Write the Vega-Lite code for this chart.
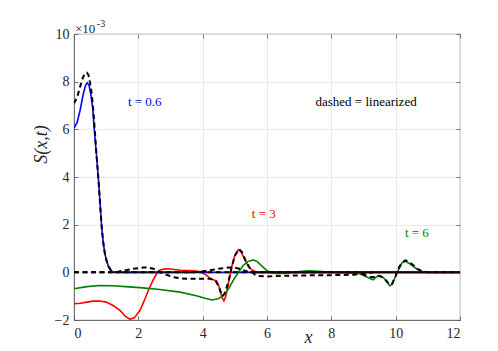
{
  "$schema": "https://vega.github.io/schema/vega-lite/v6.json",
  "autosize": {"type": "none"},
  "padding": {"left": 74, "top": 34, "right": 38, "bottom": 31},
  "width": 386,
  "height": 286,
  "config": {
    "view": {"stroke": "#555555", "strokeWidth": 0.8},
    "font": "'Liberation Serif', 'Times New Roman', serif",
    "axis": {
      "labelFont": "'Liberation Serif', 'Times New Roman', serif", "labelFontSize": 14, "labelColor": "#262626",
      "domainColor": "#555555", "domainWidth": 0.8, "tickColor": "#555555", "tickWidth": 0.8,
      "gridColor": "#e6e6e6", "gridWidth": 0.8,
      "titleFont": "'Liberation Serif', 'Times New Roman', serif", "titleFontStyle": "italic", "titleFontWeight": "normal", "titleColor": "#262626"
    }
  },
  "datasets": {
    "curves": [
      {"s": "t = 0.6", "x": 0, "y": 6.05}, {"s": "t = 0.6", "x": 0.1, "y": 6.3}, {"s": "t = 0.6", "x": 0.19, "y": 6.8}, {"s": "t = 0.6", "x": 0.29, "y": 7.5}, {"s": "t = 0.6", "x": 0.36, "y": 7.85}, {"s": "t = 0.6", "x": 0.41, "y": 7.95}, {"s": "t = 0.6", "x": 0.47, "y": 7.85}, {"s": "t = 0.6", "x": 0.53, "y": 7.4}, {"s": "t = 0.6", "x": 0.58, "y": 6.9}, {"s": "t = 0.6", "x": 0.63, "y": 6.0}, {"s": "t = 0.6", "x": 0.7, "y": 4.9}, {"s": "t = 0.6", "x": 0.76, "y": 3.9}, {"s": "t = 0.6", "x": 0.81, "y": 2.9}, {"s": "t = 0.6", "x": 0.86, "y": 1.9}, {"s": "t = 0.6", "x": 0.91, "y": 1.25}, {"s": "t = 0.6", "x": 0.96, "y": 0.78}, {"s": "t = 0.6", "x": 1.02, "y": 0.45}, {"s": "t = 0.6", "x": 1.07, "y": 0.25}, {"s": "t = 0.6", "x": 1.15, "y": 0.08}, {"s": "t = 0.6", "x": 1.22, "y": 0.01}, {"s": "t = 0.6", "x": 1.35, "y": 0}, {"s": "t = 0.6", "x": 12, "y": 0},
      {"s": "t = 3", "x": 0, "y": -1.32}, {"s": "t = 3", "x": 0.2, "y": -1.3}, {"s": "t = 3", "x": 0.4, "y": -1.25}, {"s": "t = 3", "x": 0.6, "y": -1.21}, {"s": "t = 3", "x": 0.8, "y": -1.2}, {"s": "t = 3", "x": 1.0, "y": -1.25}, {"s": "t = 3", "x": 1.2, "y": -1.38}, {"s": "t = 3", "x": 1.43, "y": -1.6}, {"s": "t = 3", "x": 1.6, "y": -1.85}, {"s": "t = 3", "x": 1.74, "y": -1.97}, {"s": "t = 3", "x": 1.88, "y": -1.9}, {"s": "t = 3", "x": 2.05, "y": -1.6}, {"s": "t = 3", "x": 2.18, "y": -1.2}, {"s": "t = 3", "x": 2.31, "y": -0.76}, {"s": "t = 3", "x": 2.45, "y": -0.35}, {"s": "t = 3", "x": 2.57, "y": -0.05}, {"s": "t = 3", "x": 2.68, "y": 0.1}, {"s": "t = 3", "x": 2.83, "y": 0.15}, {"s": "t = 3", "x": 3.0, "y": 0.14}, {"s": "t = 3", "x": 3.3, "y": 0.09}, {"s": "t = 3", "x": 3.6, "y": 0.07}, {"s": "t = 3", "x": 3.92, "y": 0.03}, {"s": "t = 3", "x": 4.1, "y": -0.1}, {"s": "t = 3", "x": 4.23, "y": -0.25}, {"s": "t = 3", "x": 4.35, "y": -0.32}, {"s": "t = 3", "x": 4.43, "y": -0.36}, {"s": "t = 3", "x": 4.5, "y": -0.55}, {"s": "t = 3", "x": 4.54, "y": -0.76}, {"s": "t = 3", "x": 4.6, "y": -1.05}, {"s": "t = 3", "x": 4.66, "y": -1.2}, {"s": "t = 3", "x": 4.72, "y": -1.0}, {"s": "t = 3", "x": 4.8, "y": -0.47}, {"s": "t = 3", "x": 4.9, "y": 0.22}, {"s": "t = 3", "x": 5.0, "y": 0.7}, {"s": "t = 3", "x": 5.11, "y": 0.95}, {"s": "t = 3", "x": 5.2, "y": 0.85}, {"s": "t = 3", "x": 5.32, "y": 0.5}, {"s": "t = 3", "x": 5.42, "y": 0.25}, {"s": "t = 3", "x": 5.52, "y": 0.11}, {"s": "t = 3", "x": 5.68, "y": 0}, {"s": "t = 3", "x": 12, "y": 0},
      {"s": "t = 6", "x": 0, "y": -0.69}, {"s": "t = 6", "x": 0.4, "y": -0.6}, {"s": "t = 6", "x": 0.81, "y": -0.55}, {"s": "t = 6", "x": 1.2, "y": -0.56}, {"s": "t = 6", "x": 1.6, "y": -0.6}, {"s": "t = 6", "x": 2.05, "y": -0.64}, {"s": "t = 6", "x": 2.6, "y": -0.71}, {"s": "t = 6", "x": 3.3, "y": -0.83}, {"s": "t = 6", "x": 3.8, "y": -0.98}, {"s": "t = 6", "x": 4.1, "y": -1.1}, {"s": "t = 6", "x": 4.3, "y": -1.16}, {"s": "t = 6", "x": 4.5, "y": -1.1}, {"s": "t = 6", "x": 4.64, "y": -0.97}, {"s": "t = 6", "x": 4.8, "y": -0.7}, {"s": "t = 6", "x": 4.95, "y": -0.34}, {"s": "t = 6", "x": 5.1, "y": -0.02}, {"s": "t = 6", "x": 5.26, "y": 0.29}, {"s": "t = 6", "x": 5.4, "y": 0.45}, {"s": "t = 6", "x": 5.57, "y": 0.52}, {"s": "t = 6", "x": 5.7, "y": 0.45}, {"s": "t = 6", "x": 5.85, "y": 0.25}, {"s": "t = 6", "x": 5.99, "y": 0.08}, {"s": "t = 6", "x": 6.15, "y": -0.02}, {"s": "t = 6", "x": 6.3, "y": -0.06}, {"s": "t = 6", "x": 6.6, "y": -0.04}, {"s": "t = 6", "x": 7.0, "y": 0.03}, {"s": "t = 6", "x": 7.3, "y": 0.06}, {"s": "t = 6", "x": 7.6, "y": 0.04}, {"s": "t = 6", "x": 8.0, "y": 0}, {"s": "t = 6", "x": 8.5, "y": -0.03}, {"s": "t = 6", "x": 8.89, "y": -0.06}, {"s": "t = 6", "x": 9.1, "y": -0.2}, {"s": "t = 6", "x": 9.3, "y": -0.31}, {"s": "t = 6", "x": 9.46, "y": -0.13}, {"s": "t = 6", "x": 9.62, "y": -0.22}, {"s": "t = 6", "x": 9.75, "y": -0.45}, {"s": "t = 6", "x": 9.82, "y": -0.57}, {"s": "t = 6", "x": 9.9, "y": -0.48}, {"s": "t = 6", "x": 10.03, "y": -0.06}, {"s": "t = 6", "x": 10.19, "y": 0.39}, {"s": "t = 6", "x": 10.29, "y": 0.47}, {"s": "t = 6", "x": 10.44, "y": 0.36}, {"s": "t = 6", "x": 10.65, "y": 0.15}, {"s": "t = 6", "x": 10.86, "y": 0.02}, {"s": "t = 6", "x": 11.1, "y": 0}, {"s": "t = 6", "x": 12, "y": 0}
    ],
    "linear": [
      {"s": "lin 0.6", "x": 0, "y": 7.09}, {"s": "lin 0.6", "x": 0.1, "y": 7.35}, {"s": "lin 0.6", "x": 0.19, "y": 7.79}, {"s": "lin 0.6", "x": 0.27, "y": 8.15}, {"s": "lin 0.6", "x": 0.34, "y": 8.35}, {"s": "lin 0.6", "x": 0.4, "y": 8.38}, {"s": "lin 0.6", "x": 0.45, "y": 8.28}, {"s": "lin 0.6", "x": 0.5, "y": 7.95}, {"s": "lin 0.6", "x": 0.55, "y": 7.5}, {"s": "lin 0.6", "x": 0.6, "y": 6.8}, {"s": "lin 0.6", "x": 0.65, "y": 5.9}, {"s": "lin 0.6", "x": 0.7, "y": 4.9}, {"s": "lin 0.6", "x": 0.76, "y": 3.9}, {"s": "lin 0.6", "x": 0.81, "y": 2.9}, {"s": "lin 0.6", "x": 0.86, "y": 1.9}, {"s": "lin 0.6", "x": 0.91, "y": 1.25}, {"s": "lin 0.6", "x": 0.96, "y": 0.78}, {"s": "lin 0.6", "x": 1.02, "y": 0.45}, {"s": "lin 0.6", "x": 1.07, "y": 0.25}, {"s": "lin 0.6", "x": 1.15, "y": 0.08}, {"s": "lin 0.6", "x": 1.22, "y": 0.01}, {"s": "lin 0.6", "x": 1.35, "y": 0}, {"s": "lin 0.6", "x": 5.6, "y": 0},
      {"s": "lin 3", "x": 0, "y": 0}, {"s": "lin 3", "x": 1.3, "y": 0}, {"s": "lin 3", "x": 1.43, "y": 0.05}, {"s": "lin 3", "x": 1.65, "y": 0.1}, {"s": "lin 3", "x": 1.84, "y": 0.15}, {"s": "lin 3", "x": 2.15, "y": 0.2}, {"s": "lin 3", "x": 2.3, "y": 0.2}, {"s": "lin 3", "x": 2.47, "y": 0.15}, {"s": "lin 3", "x": 2.62, "y": 0.05}, {"s": "lin 3", "x": 2.78, "y": -0.06}, {"s": "lin 3", "x": 3.09, "y": -0.2}, {"s": "lin 3", "x": 3.3, "y": -0.25}, {"s": "lin 3", "x": 3.5, "y": -0.27}, {"s": "lin 3", "x": 3.92, "y": -0.27}, {"s": "lin 3", "x": 4.23, "y": -0.27}, {"s": "lin 3", "x": 4.4, "y": -0.35}, {"s": "lin 3", "x": 4.5, "y": -0.6}, {"s": "lin 3", "x": 4.61, "y": -1.0}, {"s": "lin 3", "x": 4.68, "y": -0.9}, {"s": "lin 3", "x": 4.8, "y": -0.4}, {"s": "lin 3", "x": 4.9, "y": 0.2}, {"s": "lin 3", "x": 5.0, "y": 0.7}, {"s": "lin 3", "x": 5.13, "y": 0.98}, {"s": "lin 3", "x": 5.22, "y": 0.85}, {"s": "lin 3", "x": 5.35, "y": 0.45}, {"s": "lin 3", "x": 5.5, "y": 0.1}, {"s": "lin 3", "x": 5.6, "y": -0.08}, {"s": "lin 3", "x": 5.75, "y": -0.15}, {"s": "lin 3", "x": 6.0, "y": -0.17}, {"s": "lin 3", "x": 7.0, "y": -0.13}, {"s": "lin 3", "x": 8.0, "y": -0.12}, {"s": "lin 3", "x": 8.7, "y": -0.1}, {"s": "lin 3", "x": 9.0, "y": -0.05}, {"s": "lin 3", "x": 9.3, "y": 0},
      {"s": "lin 6", "x": 0, "y": 0}, {"s": "lin 6", "x": 3.5, "y": 0}, {"s": "lin 6", "x": 3.9, "y": 0.02}, {"s": "lin 6", "x": 4.2, "y": 0.08}, {"s": "lin 6", "x": 4.5, "y": 0.15}, {"s": "lin 6", "x": 4.8, "y": 0.2}, {"s": "lin 6", "x": 5.0, "y": 0.2}, {"s": "lin 6", "x": 5.2, "y": 0.12}, {"s": "lin 6", "x": 5.4, "y": 0.03}, {"s": "lin 6", "x": 5.6, "y": 0}, {"s": "lin 6", "x": 8.8, "y": 0}, {"s": "lin 6", "x": 8.95, "y": -0.06}, {"s": "lin 6", "x": 9.1, "y": -0.15}, {"s": "lin 6", "x": 9.25, "y": -0.2}, {"s": "lin 6", "x": 9.35, "y": -0.2}, {"s": "lin 6", "x": 9.5, "y": -0.15}, {"s": "lin 6", "x": 9.65, "y": -0.25}, {"s": "lin 6", "x": 9.8, "y": -0.5}, {"s": "lin 6", "x": 9.88, "y": -0.5}, {"s": "lin 6", "x": 10.0, "y": -0.15}, {"s": "lin 6", "x": 10.1, "y": 0.2}, {"s": "lin 6", "x": 10.2, "y": 0.42}, {"s": "lin 6", "x": 10.3, "y": 0.5}, {"s": "lin 6", "x": 10.4, "y": 0.45}, {"s": "lin 6", "x": 10.55, "y": 0.3}, {"s": "lin 6", "x": 10.7, "y": 0.12}, {"s": "lin 6", "x": 10.85, "y": 0.03}, {"s": "lin 6", "x": 11.0, "y": 0}, {"s": "lin 6", "x": 12, "y": 0}
    ],
    "zero": [
      {"s": "overlap", "x": 5.6, "y": 0}, {"s": "overlap", "x": 12, "y": 0}
    ],
    "notes": [
      {"label": "t = 0.6", "x": 2.2, "y": 7.14},
      {"label": "dashed = linearized", "x": 9.08, "y": 7.14},
      {"label": "t = 3", "x": 5.9, "y": 2.44},
      {"label": "t = 6", "x": 10.66, "y": 1.64}
    ],
    "exp": [
      {"label": "×10", "x": 0.03, "y": 10.2}
    ],
    "exp2": [
      {"label": "-3", "x": 0.71, "y": 10.42}
    ]
  },
  "layer": [
    {
      "data": {"name": "curves"},
      "mark": {"type": "line", "strokeWidth": 1.6, "clip": true},
      "encoding": {
        "x": {"field": "x", "type": "quantitative", "scale": {"domain": [0, 12], "nice": false},
              "axis": {"values": [0, 2, 4, 6, 8, 10, 12], "tickSize": -4, "labelPadding": 10, "grid": true, "title": "x", "titleFontSize": 18, "titleX": 234, "titleY": 22, "titleBaseline": "alphabetic", "titleAlign": "center"}},
        "y": {"field": "y", "type": "quantitative", "scale": {"domain": [-2, 10], "nice": false},
              "axis": {"values": [-2, 0, 2, 4, 6, 8, 10], "tickSize": -4, "labelPadding": 9, "grid": true, "title": "S(x,t)", "titleFontSize": 18, "titleX": -33, "titleY": 110, "titleAngle": -90, "titleAlign": "center", "titleBaseline": "middle"}},
        "color": {"field": "s", "type": "nominal", "legend": null,
                  "scale": {"domain": ["t = 0.6", "t = 3", "t = 6"], "range": ["#0000ff", "#ff0000", "#008000"]}},
        "detail": {"field": "s"}
      }
    },
    {
      "data": {"name": "linear"},
      "mark": {"type": "line", "strokeWidth": 2, "color": "#000000", "strokeDash": [5, 3.5], "clip": true},
      "encoding": {
        "x": {"field": "x", "type": "quantitative", "axis": null},
        "y": {"field": "y", "type": "quantitative", "axis": null},
        "detail": {"field": "s"}
      }
    },
    {
      "data": {"name": "zero"},
      "mark": {"type": "line", "strokeWidth": 2, "color": "#1a0000", "clip": true},
      "encoding": {
        "x": {"field": "x", "type": "quantitative", "axis": null},
        "y": {"field": "y", "type": "quantitative", "axis": null}
      }
    },
    {
      "data": {"name": "notes"},
      "mark": {"type": "text", "font": "'Liberation Serif', 'Times New Roman', serif", "fontSize": 13, "align": "center", "baseline": "middle"},
      "encoding": {
        "x": {"field": "x", "type": "quantitative",
              "axis": {"orient": "top", "values": [0, 2, 4, 6, 8, 10, 12], "labels": false, "tickSize": -4, "domain": false, "grid": false, "title": null}},
        "y": {"field": "y", "type": "quantitative",
              "axis": {"orient": "right", "values": [-2, 0, 2, 4, 6, 8, 10], "labels": false, "tickSize": -4, "domain": false, "grid": false, "title": null}},
        "text": {"field": "label"},
        "color": {"field": "label", "type": "nominal", "legend": null,
                  "scale": {"domain": ["t = 0.6", "dashed = linearized", "t = 3", "t = 6"], "range": ["#0000ff", "#000000", "#ff0000", "#008000"]}}
      }
    },
    {
      "data": {"name": "exp"},
      "mark": {"type": "text", "font": "'Liberation Serif', 'Times New Roman', serif", "fontSize": 13, "align": "left", "baseline": "middle", "color": "#262626", "clip": false},
      "encoding": {
        "x": {"field": "x", "type": "quantitative", "axis": null},
        "y": {"field": "y", "type": "quantitative", "axis": null},
        "text": {"field": "label"}
      }
    },
    {
      "data": {"name": "exp2"},
      "mark": {"type": "text", "font": "'Liberation Serif', 'Times New Roman', serif", "fontSize": 10, "align": "left", "baseline": "middle", "color": "#262626", "clip": false},
      "encoding": {
        "x": {"field": "x", "type": "quantitative", "axis": null},
        "y": {"field": "y", "type": "quantitative", "axis": null},
        "text": {"field": "label"}
      }
    }
  ],
  "resolve": {"axis": {"x": "independent", "y": "independent"}, "scale": {"color": "independent"}}
}
